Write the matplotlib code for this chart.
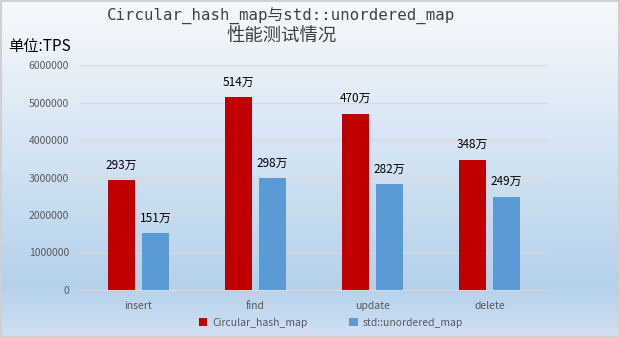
import matplotlib
matplotlib.use("Agg")
import matplotlib.pyplot as plt
import numpy as np

plt.rcParams['font.family'] = ['Noto Sans CJK SC', 'DejaVu Sans']

categories = ["insert", "find", "update", "delete"]
circular = [2930000, 5140000, 4700000, 3480000]
stdmap = [1510000, 2980000, 2820000, 2490000]
circular_labels = ["293万", "514万", "470万", "348万"]
std_labels = ["151万", "298万", "282万", "249万"]
yticks = [0, 1000000, 2000000, 3000000, 4000000, 5000000, 6000000]

W, H = 620, 338
fig = plt.figure(figsize=(W/100, H/100), dpi=100)

# gradient background
bg = fig.add_axes([0, 0, 1, 1], zorder=-10)
t = np.linspace(0, 1, 256)
top = np.array([0.965, 0.978, 0.992])
mid = np.array([0.71, 0.82, 0.92])
bot = np.array([0.82, 0.88, 0.95])
cols = np.where(t[:, None] < 0.85,
                top + (mid - top) * (t[:, None] / 0.85),
                mid + (bot - mid) * ((t[:, None] - 0.85) / 0.15))
bg.imshow(cols[:, None, :], aspect='auto', extent=[0, 1, 1, 0])
bg.set_xlim(0, 1); bg.set_ylim(1, 0)
bg.axis('off')
bg.add_patch(plt.Rectangle((0.001, 0.002), 0.997, 0.995, fill=False,
                           edgecolor='#d0d0d0', lw=1.5, transform=bg.transAxes))

ax = fig.add_axes([80/W, 1 - 290/H, (548-80)/W, (290-65)/H])
ax.patch.set_alpha(0)
x = np.arange(len(categories))
w = 0.23
b1 = ax.bar(x - w/2 - 0.03, circular, w, color='#c00000', label='Circular_hash_map', zorder=3)
b2 = ax.bar(x + w/2 + 0.03, stdmap, w, color='#5b9bd5', label='std::unordered_map', zorder=3)
for rect, lab in zip(b1, circular_labels):
    ax.text(rect.get_x() + rect.get_width()/2, rect.get_height() + 230000, lab,
            ha='center', va='bottom', fontsize=8.5, color='black')
for rect, lab in zip(b2, std_labels):
    ax.text(rect.get_x() + rect.get_width()/2, rect.get_height() + 230000, lab,
            ha='center', va='bottom', fontsize=8.5, color='black')

ax.set_ylim(0, 6000000)
ax.set_xlim(-0.5, 3.5)
ax.set_yticks(yticks)
ax.set_yticklabels([str(v) for v in yticks])
ax.set_xticks(x)
ax.set_xticklabels(categories)
ax.tick_params(axis='both', length=0, labelsize=7.5, colors='#595959')
ax.tick_params(axis='x', pad=8)
ax.tick_params(axis='y', pad=8)
ax.grid(axis='y', color='#d9d9d9', lw=1, zorder=0)
for s in ['top', 'right', 'left']:
    ax.spines[s].set_visible(False)
ax.spines['bottom'].set_color('#d9d9d9')

fig.text(281.5/W, 1 - 16/H, "Circular_hash_map与std::unordered_map", ha='center', va='center',
         fontsize=11.3, color='#404040', family=['DejaVu Sans Mono', 'Noto Sans CJK SC'])
fig.text(282/W, 1 - 37/H, "性能测试情况", ha='center', va='center',
         fontsize=13.2, color='#404040', family=['Noto Sans CJK SC', 'DejaVu Sans'])
fig.text(8/W, 1 - 46/H, "单位:TPS", ha='left', va='center', fontsize=11, color='black',
         family=['Noto Sans CJK SC', 'DejaVu Sans'])

leg = fig.legend(handles=[b1, b2], loc='center', bbox_to_anchor=(331/W, 1 - 323/H), ncol=2,
                 frameon=False, fontsize=7.5, handlelength=0.8, handleheight=0.8,
                 columnspacing=4, handletextpad=0.5)
for txt in leg.get_texts():
    txt.set_color('#595959')

fig.savefig("out.png", dpi=100)
